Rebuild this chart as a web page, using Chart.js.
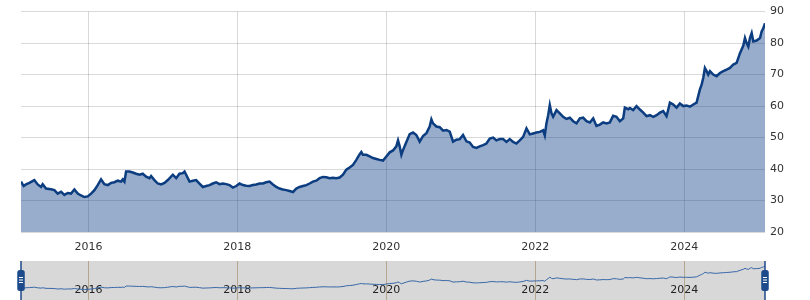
<!DOCTYPE html>
<html><head><meta charset="utf-8">
<script src="https://cdn.jsdelivr.net/npm/chart.js@4.4.1/dist/chart.umd.min.js"></script>
<style>
html,body{margin:0;padding:0;background:#fff;width:810px;height:300px;overflow:hidden}
#main{position:absolute;left:0;top:0;width:810px;height:261px}
#nav{position:absolute;left:0;top:261px;width:810px;height:39px}
</style></head><body>
<div id="main"><canvas id="c1"></canvas></div>
<div id="nav"><canvas id="c2"></canvas></div>
<script>
// decimal years
const dates = [
2015.095,2015.131,2015.162,2015.207,2015.274,2015.319,2015.364,2015.386,2015.431,2015.498,
2015.543,2015.588,2015.633,2015.677,2015.722,2015.767,2015.812,2015.857,2015.901,2015.946,
2015.991,2016.036,2016.081,2016.125,2016.170,2016.215,2016.260,2016.305,2016.349,2016.394,
2016.439,2016.462,2016.484,2016.506,2016.551,2016.596,2016.641,2016.686,2016.730,2016.775,
2016.820,2016.842,2016.887,2016.932,2016.977,2017.022,2017.066,
2017.134,2017.179,2017.223,2017.268,2017.291,2017.313,2017.358,2017.403,2017.447,2017.492,
2017.537,2017.582,2017.627,2017.671,2017.716,2017.761,2017.806,2017.851,2017.895,2017.940,
2017.985,2018.030,2018.075,2018.119,2018.164,2018.209,2018.254,2018.299,2018.343,2018.388,
2018.433,2018.478,2018.523,2018.567,2018.612,2018.657,2018.702,2018.747,2018.791,2018.836,
2018.881,2018.926,2018.971,2019.015,2019.060,2019.105,
2019.150,2019.195,2019.239,2019.284,2019.329,2019.374,2019.419,2019.463,2019.508,2019.553,
2019.598,2019.643,2019.665,2019.687,2019.732,2019.777,2019.822,2019.867,2019.911,2019.956,
2020.001,2020.046,2020.091,2020.135,2020.158,2020.180,2020.203,2020.225,2020.270,2020.315,
2020.359,2020.404,2020.449,2020.494,2020.539,2020.583,2020.606,2020.628,2020.673,2020.718,
2020.763,2020.807,2020.852,2020.897,2020.942,2020.987,2021.031,2021.076,2021.121,
2021.166,2021.211,2021.255,2021.300,2021.345,2021.390,2021.435,2021.479,2021.524,2021.569,
2021.614,2021.659,2021.703,2021.748,2021.793,2021.838,2021.883,2021.927,2021.972,2022.017,
2022.062,2022.107,2022.129,2022.151,2022.174,2022.196,2022.219,2022.241,2022.286,2022.331,
2022.375,2022.420,2022.465,2022.510,2022.555,2022.599,2022.644,2022.689,2022.734,2022.779,
2022.823,2022.868,2022.913,2022.958,2023.003,2023.047,2023.092,2023.137,2023.182,2023.204,
2023.249,
2023.271,2023.316,2023.361,2023.406,2023.451,2023.495,2023.540,2023.585,2023.630,2023.675,
2023.719,2023.764,2023.787,2023.809,2023.854,2023.899,2023.943,2023.988,2024.033,2024.078,
2024.123,2024.167,2024.212,2024.235,2024.257,2024.279,2024.302,2024.324,2024.347,2024.391,
2024.436,2024.481,2024.526,2024.571,2024.615,2024.660,2024.705,2024.750,2024.795,2024.817,
2024.839,2024.862,2024.884,2024.907,2024.929,2024.974,2025.019,2025.041,2025.063,2025.086
];
const prices = [
36.0,34.6,35.1,35.6,36.5,35.1,34.3,35.2,33.8,33.6,
33.3,32.2,32.8,31.8,32.4,32.2,33.5,32.2,31.6,31.1,
31.3,32.2,33.3,34.9,36.7,35.2,34.9,35.6,35.8,36.3,
36.0,36.7,36.0,39.2,39.2,38.9,38.5,38.2,38.5,37.6,
37.1,37.8,36.5,35.4,35.1,35.6,36.5,
38.2,37.1,38.5,38.7,39.2,38.2,36.0,36.3,36.5,35.4,
34.3,34.6,34.9,35.4,35.8,35.2,35.4,35.2,34.9,34.1,
34.6,35.4,34.9,34.7,34.6,34.9,35.1,35.4,35.4,35.8,
36.0,35.1,34.3,33.8,33.5,33.3,33.0,32.7,33.8,34.3,
34.6,34.9,35.4,36.0,36.3,37.1,
37.5,37.4,37.1,37.2,37.1,37.3,38.2,39.8,40.5,41.3,
42.9,44.7,45.4,44.5,44.5,44.0,43.5,43.2,42.9,42.7,
44.0,45.3,45.9,47.2,49.1,47.2,44.5,46.0,48.6,51.1,
51.6,50.8,48.7,50.5,51.4,53.5,55.8,54.5,53.5,53.3,
52.2,52.4,51.9,48.7,49.3,49.5,50.8,48.8,48.4,
47.0,46.7,47.2,47.6,48.1,49.7,50.0,49.1,49.5,49.5,
48.6,49.5,48.6,48.1,49.1,50.2,52.9,51.0,51.3,51.6,
51.8,52.3,50.7,54.5,57.1,60.3,57.7,56.6,58.7,57.7,
56.6,55.9,56.3,55.2,54.5,56.1,56.3,55.2,54.8,56.1,
53.7,54.1,54.8,54.5,54.8,56.9,56.6,55.2,56.1,59.5,
59.0,
59.4,58.7,60.0,58.9,57.9,56.8,57.1,56.6,57.1,57.9,
58.4,56.8,58.9,61.1,60.5,59.5,60.8,60.0,60.2,59.8,
60.5,61.1,65.3,66.8,69.0,72.1,71.1,70.0,71.1,70.0,
69.5,70.5,71.1,71.6,72.1,73.2,73.7,76.8,79.2,81.6,
80.0,78.9,81.6,83.2,80.5,80.8,81.6,83.7,84.7,86.3
];
const xTickYears = [2016, 2018, 2020, 2022, 2024];
const yTickValues = [20, 30, 40, 50, 60, 70, 80, 90];

const points = dates.map((d, i) => ({x: d, y: prices[i]}));
const xMin = dates[0], xMax = dates[dates.length - 1];
const FONT = {family: 'DejaVu Sans', size: 11};

new Chart(document.getElementById('c1'), {
  type: 'line',
  data: {datasets: [{
    data: points,
    borderColor: '#0b3d80',
    borderWidth: 2.5,
    backgroundColor: 'rgba(10,60,130,0.42)',
    fill: 'start',
    pointRadius: 0,
    tension: 0
  }]},
  options: {
    responsive: true, maintainAspectRatio: false, animation: false,
    layout: {padding: {left: 21, top: 11, right: 0, bottom: 0}},
    plugins: {legend: {display: false}, tooltip: {enabled: false}},
    scales: {
      x: {
        type: 'linear', min: xMin, max: xMax,
        afterBuildTicks: s => { s.ticks = xTickYears.map(v => ({value: v})); },
        afterFit: s => { s.height = 29; },
        grid: {color: 'rgba(0,0,0,0.15)', drawTicks: false},
        border: {display: false},
        ticks: {autoSkip: false, maxRotation: 0, padding: 9, font: FONT, color: '#333',
          callback: v => String(v)}
      },
      y: {
        position: 'right', min: 20, max: 90,
        afterBuildTicks: s => { s.ticks = yTickValues.map(v => ({value: v})); },
        afterFit: s => { s.width = 45; },
        grid: {color: 'rgba(0,0,0,0.15)', drawTicks: false},
        border: {display: false},
        ticks: {padding: 5, font: FONT, color: '#333', callback: v => String(v)}
      }
    }
  }
});

const navBg = {
  id: 'navBg',
  beforeDraw(chart) {
    const {ctx, chartArea: a} = chart;
    ctx.save();
    ctx.fillStyle = '#d8d8d8';
    ctx.fillRect(a.left, a.top, a.right - a.left, a.bottom - a.top);
    ctx.restore();
  },
  afterDraw(chart) {
    const {ctx, chartArea: a} = chart;
    const xs = chart.scales.x;
    [xs.getPixelForValue(xMin), xs.getPixelForValue(xMax)].forEach(px => {
      ctx.save();
      ctx.strokeStyle = '#1c4a8a';
      ctx.lineWidth = 1.5;
      ctx.beginPath(); ctx.moveTo(px, a.top); ctx.lineTo(px, a.bottom + 5); ctx.stroke();
      ctx.fillStyle = '#1c4a8a';
      const w = 7.5, h = 21, y0 = a.top + 9;
      ctx.beginPath();
      ctx.roundRect(px - w / 2, y0, w, h, 2.5);
      ctx.fill();
      ctx.strokeStyle = '#ffffff';
      ctx.lineWidth = 1;
      [16.5, 19, 21.5].forEach(dy => {
        ctx.beginPath(); ctx.moveTo(px - 2, a.top + dy); ctx.lineTo(px + 2, a.top + dy); ctx.stroke();
      });
      ctx.restore();
    });
  }
};

new Chart(document.getElementById('c2'), {
  type: 'line',
  data: {datasets: [{
    data: points,
    borderColor: '#3868a8',
    borderWidth: 1,
    fill: false,
    pointRadius: 0,
    tension: 0
  }]},
  options: {
    responsive: true, maintainAspectRatio: false, animation: false,
    layout: {padding: {left: 21, right: 45, top: 0, bottom: 0}},
    plugins: {legend: {display: false}, tooltip: {enabled: false}},
    scales: {
      x: {
        type: 'linear', min: xMin, max: xMax, z: 1,
        afterBuildTicks: s => { s.ticks = xTickYears.map(v => ({value: v})); },
        afterFit: s => { s.height = 0; },
        grid: {color: '#b5a68e', drawTicks: false},
        border: {display: false},
        ticks: {autoSkip: false, maxRotation: 0, mirror: true, padding: 3.4, font: FONT, color: '#222',
          callback: v => String(v)}
      },
      y: {display: false, min: 6, max: 99}
    }
  },
  plugins: [navBg]
});
</script>
</body></html>
